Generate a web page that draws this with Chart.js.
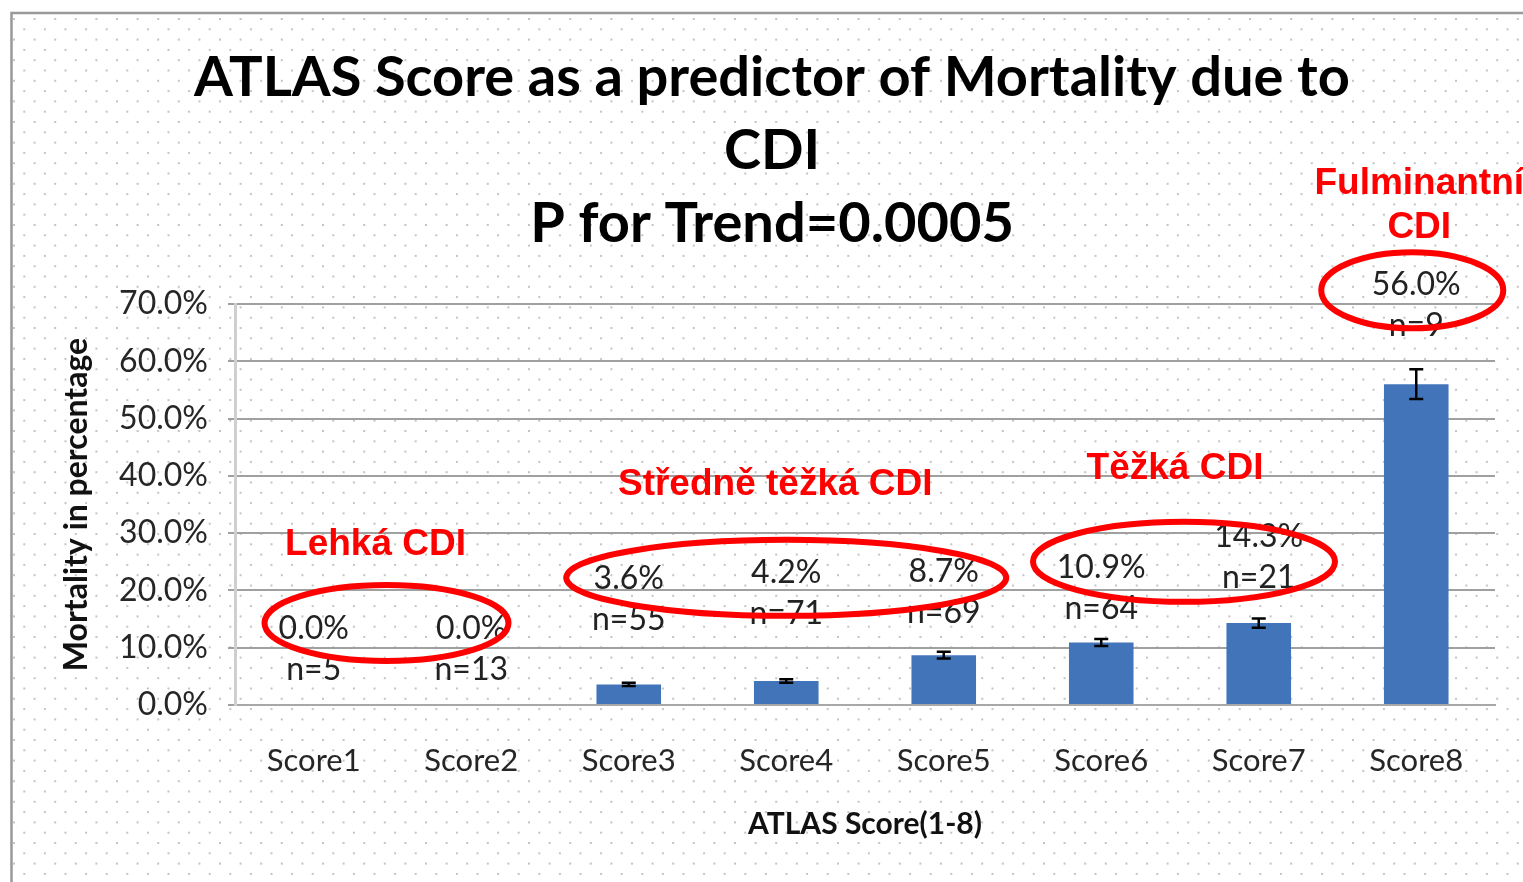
<!DOCTYPE html>
<html>
<head>
<meta charset="utf-8">
<script src="https://cdn.jsdelivr.net/npm/chart.js@4.4.0/dist/chart.umd.min.js"></script>
<style>
    html, body { margin: 0; padding: 0; background: #fff; overflow: hidden; }
</style>
</head>
<body>
<canvas id="atlasChart" width="1523" height="882"></canvas>
<script>
// data
const scores = ["Score1", "Score2", "Score3", "Score4", "Score5", "Score6", "Score7", "Score8"];
const mortality = [0.0, 0.0, 3.6, 4.2, 8.7, 10.9, 14.3, 56.0];
const errorBars = [0, 0, 0.3, 0.3, 0.6, 0.6, 0.8, 2.6];
const sampleSizes = ["n=5", "n=13", "n=55", "n=71", "n=69", "n=64", "n=21", "n=9"];
const yTicks = [0, 10, 20, 30, 40, 50, 60, 70];
const titleLines = ["ATLAS Score as a predictor of Mortality due to", "CDI", "P for Trend=0.0005"];
const severityLabels = [["Lehká CDI"], ["Středně těžká CDI"], ["Těžká CDI"], ["Fulminantní", "CDI"]];
const severityRanges = [[0, 1], [2, 4], [5, 6], [7, 7]];

const RED = "#ff0000";

// dotted paper background + frame
const paperPlugin = {
    id: "paper",
    beforeDraw(chart) {
        const { ctx, width, height } = chart;
        ctx.save();
        ctx.fillStyle = "#fff";
        ctx.fillRect(0, 0, width, height);
        ctx.fillStyle = "#c4c4c4";
        let row = 0;
        for (let y = 19; y < height; y += 10.3, row++) {
            const start = row % 2 ? 24.3 : 14;
            for (let x = start; x < width; x += 20.6) {
                ctx.fillRect(x - 1, y - 1, 2, 2);
            }
        }
        ctx.strokeStyle = "#999";
        ctx.lineWidth = 2.5;
        ctx.beginPath();
        ctx.moveTo(11.5, height);
        ctx.lineTo(11.5, 13);
        ctx.lineTo(width, 13);
        ctx.stroke();
        ctx.restore();
    },
};

// error bars, value labels and the red severity notes
const notesPlugin = {
    id: "notes",
    afterDatasetsDraw(chart, args, opts) {
        const { ctx } = chart;
        const xs = chart.scales.x;
        const ys = chart.scales.y;
        const meta = chart.getDatasetMeta(0);
        ctx.save();

        // error bars
        ctx.strokeStyle = "#000";
        ctx.lineWidth = 2.5;
        meta.data.forEach((bar, i) => {
            if (!errorBars[i]) return;
            const top = ys.getPixelForValue(mortality[i] + errorBars[i]);
            const bot = ys.getPixelForValue(mortality[i] - errorBars[i]);
            ctx.beginPath();
            ctx.moveTo(bar.x, top);
            ctx.lineTo(bar.x, bot);
            ctx.moveTo(bar.x - 7, top);
            ctx.lineTo(bar.x + 7, top);
            ctx.moveTo(bar.x - 7, bot);
            ctx.lineTo(bar.x + 7, bot);
            ctx.stroke();
        });

        // value labels
        ctx.fillStyle = "#222";
        ctx.font = "32px Lato";
        ctx.textAlign = "center";
        ctx.textBaseline = "middle";
        meta.data.forEach((bar, i) => {
            const y = bar.y - opts.labelLift[i];
            ctx.fillText(mortality[i].toFixed(1) + "%", bar.x, y);
            ctx.fillText(sampleSizes[i], bar.x, y + 41);
        });

        // red ellipses and captions
        ctx.strokeStyle = RED;
        ctx.fillStyle = RED;
        ctx.lineWidth = 6;
        ctx.font = "bold 37px 'Liberation Sans', Arial, sans-serif";
        severityRanges.forEach((range, g) => {
            const mid = (xs.getPixelForValue(range[0]) + xs.getPixelForValue(range[1])) / 2;
            const e = opts.ellipses[g];
            ctx.beginPath();
            ctx.ellipse(mid + e.dx, ys.getPixelForValue(e.y), e.rx, e.ry, 0, 0, Math.PI * 2);
            ctx.stroke();
            const t = opts.captions[g];
            severityLabels[g].forEach((line, k) => {
                ctx.fillText(line, mid + t.dx, ys.getPixelForValue(t.y) + k * 44);
            });
        });
        ctx.restore();
    },
};

new Chart(document.getElementById("atlasChart"), {
    type: "bar",
    data: {
        labels: scores,
        datasets: [
            {
                data: mortality,
                backgroundColor: "#4274ba",
                barPercentage: 0.41,
                categoryPercentage: 1.0,
            },
        ],
    },
    options: {
        responsive: false,
        animation: false,
        layout: { padding: { left: 49, right: 28, top: 12, bottom: 0 } },
        scales: {
            x: {
                grid: { display: false },
                border: { display: true, color: "#a8a8a8", width: 2 },
                ticks: {
                    color: "#262626",
                    padding: 29,
                    font: { family: "Lato", size: 31 },
                },
                title: {
                    display: true,
                    text: "ATLAS Score(1-8)",
                    color: "#111",
                    padding: { top: 0, bottom: 40 },
                    font: { family: "Lato", size: 30, weight: "bold" },
                },
                afterFit: (scale) => { scale.height = 177; },
            },
            y: {
                min: 0,
                max: 70,
                afterBuildTicks: (scale) => {
                    scale.ticks = yTicks.map((v) => ({ value: v }));
                },
                grid: { color: "#a0a0a0", lineWidth: 2, tickLength: 7 },
                border: { display: true, color: "#cfcfcf", width: 3 },
                ticks: {
                    color: "#262626",
                    padding: 20,
                    font: { family: "Lato", size: 32 },
                    callback: (v) => v.toFixed(1) + "%",
                },
                title: {
                    display: true,
                    text: "Mortality in percentage",
                    color: "#111",
                    padding: { top: 8, bottom: 0 },
                    font: { family: "Lato", size: 32, weight: "bold" },
                },
                afterFit: (scale) => { scale.width = 186; },
            },
        },
        plugins: {
            legend: { display: false },
            tooltip: { enabled: false },
            title: {
                display: true,
                text: titleLines,
                color: "#000",
                padding: { top: 29.5, bottom: 43.5 },
                font: { family: "Lato", size: 56, weight: "bold", lineHeight: 73 / 56 },
            },
            notes: {
                labelLift: [76, 76, 106, 108, 83, 75, 86, 100],
                ellipses: [
                    { dx: -6, y: 14.3, rx: 122, ry: 38 },
                    { dx: 0, y: 22.2, rx: 220, ry: 38 },
                    { dx: 4, y: 25.0, rx: 151, ry: 40 },
                    { dx: -4, y: 72.4, rx: 91, ry: 38 },
                ],
                captions: [
                    { dx: -17, y: 27.9 },
                    { dx: -11, y: 38.5 },
                    { dx: -5, y: 41.2 },
                    { dx: 3, y: 90.9 },
                ],
            },
        },
    },
    plugins: [paperPlugin, notesPlugin],
});
</script>
</body>
</html>
